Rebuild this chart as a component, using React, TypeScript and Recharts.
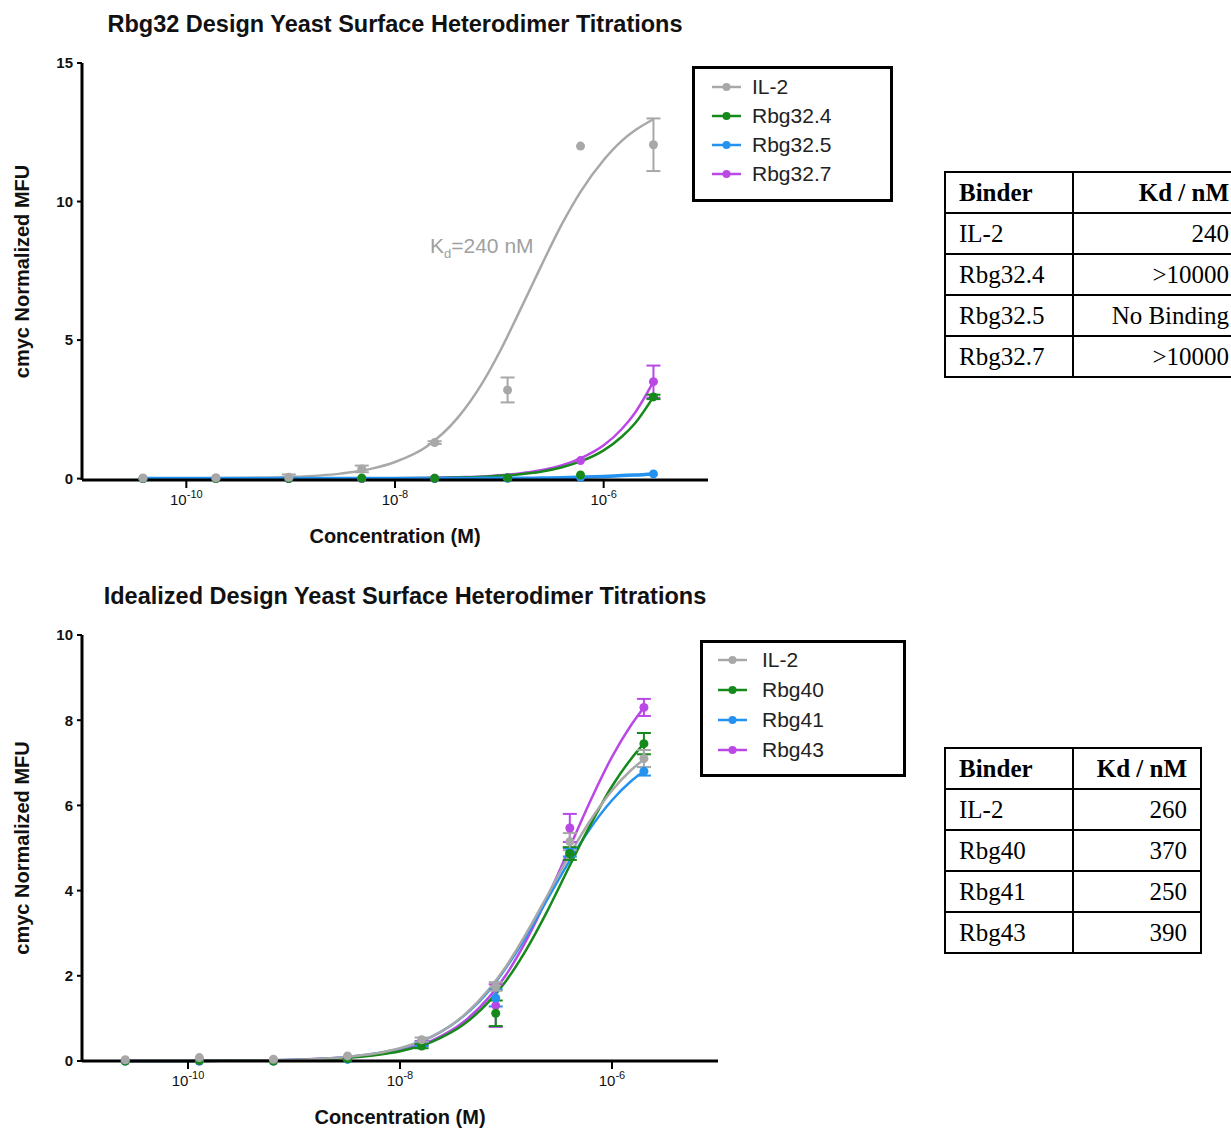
import React from 'react';
import { ComposedChart, Line, Scatter, XAxis, YAxis, ErrorBar, Legend } from 'recharts';

// ---------- Colours ----------
const GRAY = '#a8a8a8';
const GREEN = '#15891a';
const BLUE = '#2392f0';
const MAGENTA = '#b948e6';

// ---------- Top panel (Rbg32) ----------
const topConc = [3.84e-11, 1.92e-10, 9.6e-10, 4.8e-9, 2.4e-8, 1.2e-7, 6e-7, 3e-6];
const topIL2 = [0.02, 0.03, 0.05, 0.35, 1.3, 3.2, 12.0, 12.05];
const topIL2Err = [0, 0, 0.1, 0.12, 0.05, 0.45, 0, 0.95];
const topR324 = [0.0, 0.0, 0.0, 0.02, 0.01, 0.03, 0.13, 2.95];
const topR324Err = [0, 0, 0, 0, 0, 0, 0, 0.08];
const topR325 = [0.0, 0.0, 0.0, 0.0, 0.0, 0.01, 0.05, 0.17];
const topR327 = [0.0, 0.0, 0.0, 0.0, 0.01, 0.03, 0.65, 3.5];
const topR327Err = [0, 0, 0, 0, 0, 0, 0, 0.58];

const topFitConc = [3.84e-11, 1e-10, 3e-10, 1e-9, 3e-9, 6e-9, 1e-8, 2e-8, 4e-8, 7e-8, 1e-7, 1.5e-7, 2.5e-7, 4e-7, 6e-7, 1e-6, 1.5e-6, 2e-6, 3e-6];
const topIL2Fit = [0, 0.01, 0.02, 0.06, 0.18, 0.36, 0.6, 1.15, 2.2, 3.5, 4.55, 5.9, 7.65, 9.2, 10.35, 11.5, 12.2, 12.57, 12.97];
const topR324Fit = [0, 0, 0, 0, 0, 0.01, 0.01, 0.02, 0.04, 0.07, 0.1, 0.15, 0.25, 0.41, 0.62, 1.02, 1.52, 2.0, 2.95];
const topR325Fit = [0, 0, 0, 0, 0, 0, 0, 0, 0, 0.01, 0.01, 0.01, 0.02, 0.03, 0.05, 0.08, 0.11, 0.13, 0.17];
const topR327Fit = [0, 0, 0, 0, 0, 0.01, 0.01, 0.02, 0.05, 0.08, 0.12, 0.18, 0.3, 0.48, 0.73, 1.2, 1.8, 2.38, 3.5];

const topNames = ['IL-2', 'Rbg32.4', 'Rbg32.5', 'Rbg32.7'];
const topYTicks = [0, 5, 10, 15];

// ---------- Bottom panel (Idealized) ----------
const botConc = [2.56e-11, 1.28e-10, 6.4e-10, 3.2e-9, 1.6e-8, 8e-8, 4e-7, 2e-6];
const botIL2 = [0.03, 0.08, 0.04, 0.12, 0.5, 1.75, 5.15, 7.1];
const botIL2Err = [0, 0, 0, 0, 0.05, 0.1, 0.2, 0.2];
const botR40 = [0.0, 0.01, 0.0, 0.05, 0.35, 1.12, 4.87, 7.45];
const botR40Err = [0, 0, 0, 0, 0.05, 0.3, 0.15, 0.25];
const botR41 = [0.0, 0.0, 0.0, 0.04, 0.4, 1.48, 4.9, 6.8];
const botR41Err = [0, 0, 0, 0, 0.05, 0.2, 0.1, 0.1];
const botR43 = [0.0, 0.0, 0.0, 0.05, 0.42, 1.3, 5.47, 8.3];
const botR43Err = [0, 0, 0, 0, 0.05, 0.5, 0.33, 0.2];

const botFitConc = [2.56e-11, 1e-10, 3e-10, 1e-9, 3e-9, 6e-9, 1e-8, 2e-8, 4e-8, 7e-8, 1e-7, 1.5e-7, 2.5e-7, 4e-7, 6e-7, 1e-6, 1.5e-6, 2e-6];
const botIL2Fit = [0, 0, 0.01, 0.03, 0.09, 0.18, 0.3, 0.57, 1.07, 1.7, 2.22, 2.93, 3.92, 4.85, 5.58, 6.35, 6.82, 7.08];
const botR40Fit = [0, 0, 0.01, 0.02, 0.07, 0.14, 0.23, 0.45, 0.86, 1.41, 1.88, 2.55, 3.56, 4.59, 5.46, 6.45, 7.08, 7.45];
const botR41Fit = [0, 0, 0.01, 0.03, 0.09, 0.18, 0.29, 0.57, 1.06, 1.67, 2.19, 2.87, 3.83, 4.71, 5.4, 6.12, 6.56, 6.8];
const botR43Fit = [0, 0, 0.01, 0.03, 0.08, 0.15, 0.25, 0.48, 0.92, 1.51, 2.02, 2.76, 3.88, 5.02, 6.01, 7.14, 7.87, 8.3];

const botNames = ['IL-2', 'Rbg40', 'Rbg41', 'Rbg43'];
const botYTicks = [0, 2, 4, 6, 8, 10];

const xTicks = [1e-10, 1e-8, 1e-6];

// ---------- Tables ----------
const topTableBinders = ['IL-2', 'Rbg32.4', 'Rbg32.5', 'Rbg32.7'];
const topTableKd = ['240', '>10000', 'No Binding', '>10000'];
const botTableBinders = ['IL-2', 'Rbg40', 'Rbg41', 'Rbg43'];
const botTableKd = ['260', '370', '250', '390'];

// ---------- helpers ----------
const pts = (xs: number[], ys: number[], errs?: number[]) =>
  xs.map((x, i) => ({ x, y: ys[i], err: errs ? errs[i] : 0 }));

const SANS = 'Arial, "Liberation Sans", sans-serif';
const SERIF = '"Times New Roman", "Liberation Serif", serif';

const PowTick = (props: any) => {
  const { x, y, payload } = props;
  const exp = Math.round(Math.log10(payload.value));
  return (
    <text x={x} y={y} textAnchor="middle" fontFamily={SANS} fill="#111" fontSize={15}>
      <tspan dy={15}>10</tspan>
      <tspan dy={-7} fontSize={11}>{String(exp)}</tspan>
    </text>
  );
};

const dotShape = (color: string) => (p: any) =>
  <circle cx={p.cx} cy={p.cy} r={4.5} fill={color} stroke="none" />;

const LegendBox = ({ items, colors, width, height, lineLeft, textLeft, rowTop, rowGap }: any) => (
  <div
    style={{
      width, height, border: '3px solid #000', boxSizing: 'border-box', background: '#fff',
      position: 'relative', fontFamily: SANS,
    }}
  >
    {items.map((name: string, i: number) => (
      <div key={name} style={{ position: 'absolute', left: 0, top: rowTop + i * rowGap - 12, height: 24, width: '100%' }}>
        <svg width={32} height={24} style={{ position: 'absolute', left: lineLeft, top: 0 }}>
          <line x1={0} y1={12} x2={29} y2={12} stroke={colors[i]} strokeWidth={2.5} />
          <circle cx={14.5} cy={12} r={4} fill={colors[i]} />
        </svg>
        <span style={{ position: 'absolute', left: textLeft, top: 0, fontSize: 21, lineHeight: '24px', color: '#222', whiteSpace: 'nowrap' }}>
          {name}
        </span>
      </div>
    ))}
  </div>
);

const Table = ({ left, top, col1, col2, binders, kds }: any) => {
  const cell: React.CSSProperties = {
    border: '2px solid #000', height: 39, padding: '0 13px', fontFamily: SERIF, fontSize: 25,
    lineHeight: '39px', whiteSpace: 'nowrap',
  };
  return (
    <table style={{ position: 'absolute', left, top, borderCollapse: 'collapse', tableLayout: 'fixed', width: col1 + col2 }}>
      <colgroup>
        <col style={{ width: col1 }} />
        <col style={{ width: col2 }} />
      </colgroup>
      <tbody>
        <tr>
          <td style={{ ...cell, fontWeight: 'bold', textAlign: 'left' }}>Binder</td>
          <td style={{ ...cell, fontWeight: 'bold', textAlign: 'right' }}>Kd / nM</td>
        </tr>
        {binders.map((b: string, i: number) => (
          <tr key={b}>
            <td style={{ ...cell, textAlign: 'left' }}>{b}</td>
            <td style={{ ...cell, textAlign: 'right' }}>{kds[i]}</td>
          </tr>
        ))}
      </tbody>
    </table>
  );
};

const Panel = (cfg: any) => {
  const {
    width, height, marginTop, xAxisHeight, yMax, yTicks, fits, points, colors, names,
    xLabelOffset, legendPos, legendProps,
  } = cfg;
  return (
    <ComposedChart width={width} height={height} margin={{ top: marginTop, right: 12, bottom: 0, left: 0 }}>
      <XAxis
        dataKey="x"
        type="number"
        scale="log"
        domain={[1e-11, 1e-5]}
        allowDataOverflow
        ticks={xTicks}
        height={xAxisHeight}
        axisLine={{ stroke: '#000', strokeWidth: 3 }}
        tickLine={{ stroke: '#000', strokeWidth: 2 }}
        tickSize={8}
        tickMargin={2}
        tick={<PowTick />}
        label={{
          value: 'Concentration (M)', position: 'insideBottom', offset: xLabelOffset,
          style: { fontFamily: SANS, fontSize: 20, fontWeight: 'bold', fill: '#111' },
        }}
      />
      <YAxis
        type="number"
        domain={[0, yMax]}
        ticks={yTicks}
        width={82}
        interval={0}
        axisLine={{ stroke: '#000', strokeWidth: 3 }}
        tickLine={{ stroke: '#000', strokeWidth: 2 }}
        tickSize={5}
        tickMargin={4}
        tick={{ fontFamily: SANS, fontSize: 15, fontWeight: 'bold', fill: '#111' }}
        label={{
          value: 'cmyc Normalized MFU', angle: -90, position: 'center', dx: -19,
          style: { fontFamily: SANS, fontSize: 20, fontWeight: 'bold', fill: '#111', textAnchor: 'middle' },
        }}
      />
      {fits.map((f: any, i: number) => (
        <Line
          key={'fit' + i}
          data={f.data}
          dataKey="y"
          type="monotone"
          stroke={f.color}
          strokeWidth={f.width || 2.5}
          dot={false}
          activeDot={false}
          isAnimationActive={false}
          legendType="none"
        />
      ))}
      {points.map((p: any, i: number) => (
        <Scatter
          key={'pts' + i}
          data={p.data}
          dataKey="y"
          fill={p.color}
          shape={dotShape(p.color)}
          isAnimationActive={false}
          legendType="none"
        >
          <ErrorBar dataKey="err" direction="y" width={7} stroke={p.color} strokeWidth={2} />
        </Scatter>
      ))}
      <Legend
        layout="vertical"
        align="center"
        verticalAlign="middle"
        wrapperStyle={{ left: legendPos.left, top: legendPos.top, width: legendProps.width, height: legendProps.height }}
        content={() => <LegendBox items={names} colors={colors} {...legendProps} />}
      />
    </ComposedChart>
  );
};

export default function App() {
  const topColors = [GRAY, GREEN, BLUE, MAGENTA];
  const botColors = [GRAY, GREEN, BLUE, MAGENTA];

  const topFits = [
    { data: pts(topFitConc, topIL2Fit), color: GRAY },
    { data: pts(topFitConc, topR327Fit), color: MAGENTA },
    { data: pts(topFitConc, topR324Fit), color: GREEN },
    { data: pts(topFitConc, topR325Fit), color: BLUE, width: 3.5 },
  ];
  const topPoints = [
    { data: pts(topConc, topR325), color: BLUE },
    { data: pts(topConc, topR327, topR327Err), color: MAGENTA },
    { data: pts(topConc, topR324, topR324Err), color: GREEN },
    { data: pts(topConc, topIL2, topIL2Err), color: GRAY },
  ];
  const botFits = [
    { data: pts(botFitConc, botR43Fit), color: MAGENTA },
    { data: pts(botFitConc, botR41Fit), color: BLUE },
    { data: pts(botFitConc, botR40Fit), color: GREEN },
    { data: pts(botFitConc, botIL2Fit), color: GRAY },
  ];
  const botPoints = [
    { data: pts(botConc, botR43, botR43Err), color: MAGENTA },
    { data: pts(botConc, botR41, botR41Err), color: BLUE },
    { data: pts(botConc, botR40, botR40Err), color: GREEN },
    { data: pts(botConc, botIL2, botIL2Err), color: GRAY },
  ];

  return (
    <div style={{ position: 'absolute', left: 0, top: 0, width: 1231, height: 1129, overflow: 'hidden', background: '#fff' }}>
      {/* Top panel */}
      <div style={{ position: 'absolute', left: 0, top: 10, width: 790, textAlign: 'center', fontFamily: SANS, fontWeight: 'bold', fontSize: 23.5, lineHeight: '28px', color: '#111', whiteSpace: 'nowrap' }}>
        Rbg32 Design Yeast Surface Heterodimer Titrations
      </div>
      <div style={{ position: 'absolute', left: 0, top: 0 }}>
        <Panel
          width={720}
          height={560}
          marginTop={63}
          xAxisHeight={80}
          yMax={15}
          yTicks={topYTicks}
          fits={topFits}
          points={topPoints}
          colors={topColors}
          names={topNames}
          xLabelOffset={17}
          legendPos={{ left: 692, top: 66 }}
          legendProps={{ width: 201, height: 136, lineLeft: 17, textLeft: 57, rowTop: 18, rowGap: 29 }}
        />
      </div>
      <div style={{ position: 'absolute', left: 430, top: 234, fontFamily: SANS, fontSize: 21, color: '#a0a0a0', whiteSpace: 'nowrap' }}>
        K<sub style={{ fontSize: 13 }}>d</sub>=240 nM
      </div>

      {/* Bottom panel */}
      <div style={{ position: 'absolute', left: 0, top: 582, width: 810, textAlign: 'center', fontFamily: SANS, fontWeight: 'bold', fontSize: 23.5, lineHeight: '28px', color: '#111', whiteSpace: 'nowrap' }}>
        Idealized Design Yeast Surface Heterodimer Titrations
      </div>
      <div style={{ position: 'absolute', left: 0, top: 570 }}>
        <Panel
          width={730}
          height={559}
          marginTop={65}
          xAxisHeight={68}
          yMax={10}
          yTicks={botYTicks}
          fits={botFits}
          points={botPoints}
          colors={botColors}
          names={botNames}
          xLabelOffset={5}
          legendPos={{ left: 700, top: 70 }}
          legendProps={{ width: 206, height: 137, lineLeft: 15, textLeft: 59, rowTop: 17, rowGap: 30 }}
        />
      </div>

      <Table left={944} top={171} col1={128} col2={170} binders={topTableBinders} kds={topTableKd} />
      <Table left={944} top={747} col1={128} col2={128} binders={botTableBinders} kds={botTableKd} />
    </div>
  );
}
